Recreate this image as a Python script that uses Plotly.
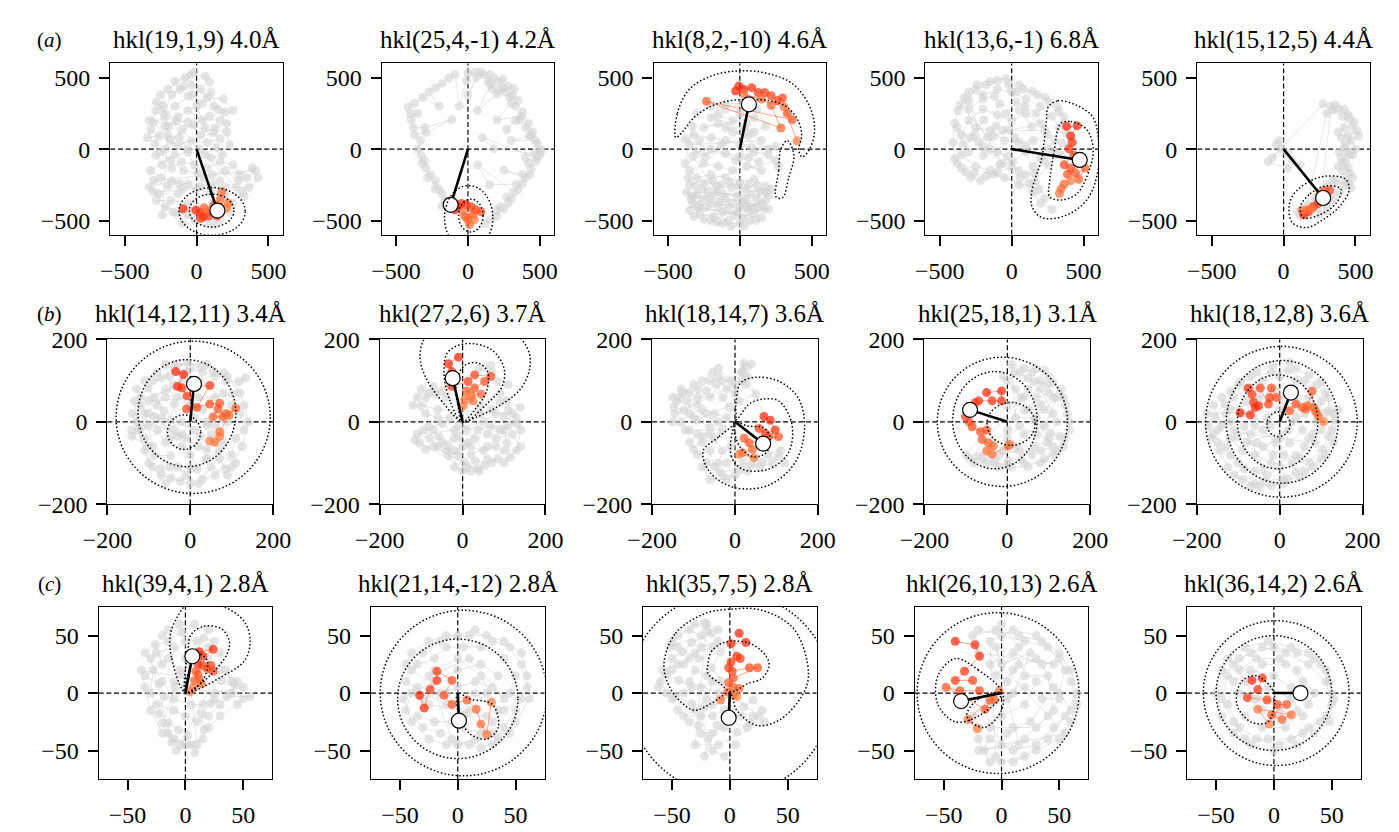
import plotly.graph_objects as go

W, H = 1399, 832
FONT = "Liberation Serif"

# ---------------- data ----------------
TITLES = ["hkl(19,1,9) 4.0Å", "hkl(25,4,-1) 4.2Å", "hkl(8,2,-10) 4.6Å", "hkl(13,6,-1) 6.8Å", "hkl(15,12,5) 4.4Å",
          "hkl(14,12,11) 3.4Å", "hkl(27,2,6) 3.7Å", "hkl(18,14,7) 3.6Å", "hkl(25,18,1) 3.1Å", "hkl(18,12,8) 3.6Å",
          "hkl(39,4,1) 2.8Å", "hkl(21,14,-12) 2.8Å", "hkl(35,7,5) 2.8Å", "hkl(26,10,13) 2.6Å", "hkl(36,14,2) 2.6Å"]
ROW_LABELS = ["a", "b", "c"]
ROW_RANGE = [600, 200, 75]
ROW_TICKS = [[-500, 0, 500], [-200, 0, 200], [-50, 0, 50]]

A1_GRAY = [(-16,540),(-150,473),(-116,417),(-38,450),(74,361),(186,350),(253,271),(163,204),(40,204),(-60,271),(-128,226),(-195,159),(-240,305),(-284,271),(-318,137),(-340,81),(-262,92),(-128,25),(-38,58),(74,47),(163,70),(119,114),(-217,2),(-284,-43),(-240,-110),(-172,-133),(-105,-88),(-16,-110),(74,-133),(163,-88),(253,-110),(298,-178),(388,-133),(428,-200),(365,-268),(276,-268),(163,-223),(52,-200),(-60,-245),(-172,-223),(-329,-268),(-262,-313),(-128,-313),(-217,-403),(-128,-447),(-16,-492),(74,-492),(163,-492),
           (-250,380),(-200,420),(-80,500),(30,420),(120,300),(200,260),(90,230),(-20,170),(-100,130),(-180,60),(-300,190),(-220,220),(-150,300),(-60,370),(0,300),(60,150),(140,10),(60,-40),(-60,-20),(-150,-40),(-320,-150),(-250,-200),(-120,-240),(0,-280),(100,-300),(200,-320),(320,-300),(250,-380),(-60,-380),(-180,-360),(-280,-360),(-100,-520),(120,-530),(230,-440),(330,-330),
           (-280,330),(-230,250),(-170,380),(-90,440),(-30,380),(40,320),(100,400),(150,280),(210,180),(130,150),(30,100),(-60,190),(-140,200),(-220,160),(-290,40),(-250,-20),(-180,-80),(-90,-150),(10,-170),(110,-180),(200,-150),(290,-220),(350,-200),(410,-150),(-300,-220),(-200,-260),(-100,-280),(20,-260),(110,-250),(200,-270),(-300,-300),(-160,-440),(-60,-460),(0,-420),(-240,-460),(-200,100),(-120,80),(-60,0),(20,0),(100,-60),(180,-40),(230,30),(210,120),(-330,200),(-40,520),(60,510),(90,470)]
A1_ORANGE = [(-94,-417),(-5,-428),(29,-446),(47,-473),(29,-486),(85,-468),(141,-468),(96,-435),(52,-412),(119,-390),(163,-356),(175,-300),(220,-379),(208,-413)]
A1_VEC = (145,-430)
A1_ELL = [(108,-436,230,167),(105,-430,155,115)]
A1_CURVES = []

A2_GRAY = [(-135,-403),(-180,-400),(-160,-360),(-180,-313),(-200,-280),(-225,-223),(-230,-280),(-260,-180),(-280,-200),(-292,-133),(-300,-80),(-320,-100),(-326,-43),(-350,0),(-330,60),(-370,100),(-292,115),(-112,205),(-300,150),(-380,150),(-394,205),(-350,250),(-400,250),(-416,294),(-370,320),(-315,362),(-200,300),(-270,400),(-225,430),(-180,460),(-135,497),(-90,520),(-60,300),(-10,480),(0,531),(50,540),(60,500),(0,380),(90,540),(112,520),(150,520),(140,470),(180,497),(210,470),(240,490),(247,430),(220,410),(202,385),(67,271),(157,452),(170,420),(260,400),(280,440),(320,420),(292,362),(310,380),(349,340),(330,300),(300,320),(202,204),(370,230),(360,205),(330,200),(270,137),(380,260),(420,180),(400,150),(450,120),(440,100),(427,92),(300,60),(470,60),(480,40),(495,2),(510,-10),(500,-40),(460,-30),(180,2),(100,80),(480,-60),(472,-88),(400,-60),(420,-100),(440,-140),(430,-180),(382,-178),(250,-150),(400,-200),(380,-240),(350,-280),(337,-245),(150,-250),(67,-110),(320,-300),(300,-350),(270,-335),(280,-380),(250,-420),(225,-403),(200,-430),(200,-470),(157,-492),(120,-520)]
A2_ORANGE = [(-90,-425),(-67,-403),(-45,-380),(-11,-390),(22,-403),(56,-425),(90,-438),(34,-460),(0,-494),(-22,-472),(11,-528),(-34,-438),(45,-494)]
A2_VEC = (-120,-390)
A2_ELL = [(5,-480,168,225),(20,-465,85,115)]
A2_CURVES = []

A3_GRAY = [(-300,250),(-200,300),(-100,280),(0,250),(100,220),(-250,150),(-150,180),(-50,120),(60,100),(150,60),(-350,30),(-300,-20),(-200,0),(-100,-30),(0,-50),(100,-20),(200,-40),(250,-80),(-350,-250),(-300,-200),(-200,-180),(-100,-200),(0,-230),(100,-210),(180,-260),(200,-320),(150,-380),(50,-400),(-50,-380),(-150,-400),(-250,-350),(-330,-380),(-280,-450),(-180,-470),(-80,-500),(20,-480),(100,-450),(170,-420),(-220,-300),(-120,-310),(-20,-330),(80,-320),
           (-370,-300),(-330,-330),(-260,-280),(-160,-260),(-60,-270),(40,-280),(140,-300),(120,-350),(20,-370),(-100,-350),(-200,-340),(-300,-320),(-350,-430),(-240,-410),(-120,-440),(-20,-440),(80,-400),(180,-360),(-200,-500),(-120,-520),(0,-520),(70,-500),(-350,-150),(-250,-100),(-150,-120),(-50,-150),(50,-120),(150,-150),(-380,70),(-320,100),(-200,80),(-100,60),(0,30),(80,10),(250,20),(270,-120),(-150,240),(-50,200),(50,180),
           (-360,-200),(-310,-260),(-250,-240),(-190,-220),(-130,-250),(-70,-230),(-10,-260),(60,-250),(120,-260),(180,-300),(220,-280),(-340,-350),(-280,-390),(-200,-380),(-140,-370),(-80,-410),(0,-400),(60,-430),(120,-410),(200,-420),(-320,-470),(-250,-490),(-160,-510),(-60,-540),(30,-540),(110,-500),(150,-480),(-290,-410),(-40,-460),(40,-350),(-160,-300),(-330,-50),(-280,60),(-240,-50),(-130,30),(-30,-80),(60,-60),(130,-90),(200,0),(-100,150),(30,150),(100,120),(-200,220),(-100,320),(10,320),(120,280),(180,160),(-380,-100),(-330,160)]
A3_ORANGE = [(-29,407),(-7,441),(27,419),(83,430),(128,396),(173,396),(218,374),(263,340),(297,358),(331,250),(364,205),(-232,335),(286,148),(218,306),(151,351),(27,385),(308,295),(398,58)]
A3_VEC = (63,313)
A3_ELL = []
A3_CURVES = [
    [(-445,80),(-435,250),(-350,420),(-190,515),(0,548),(190,530),(370,455),(485,300),(520,140),(490,10),(435,-55),(410,-10),(430,100),(400,210),(320,300),(200,340),(60,345),(-60,340),(-200,300),(-320,220),(-400,120),(-445,80)],
    [(286,2),(270,-150),(252,-335),(297,-340),(340,-200),(376,-43),(330,60),(286,2)],
]

A4_GRAY = [(-240,450),(-150,473),(-38,495),(52,450),(141,405),(231,361),(320,293),(365,226),(410,92),(343,-43),(253,-110),(163,-222),(231,-345),(96,-20),(7,-88),(-83,-110),(-128,-177),(-217,-222),(-284,-200),(-352,-132),(-397,-65),(-408,47),(-397,181),(-374,271),(-329,361),(-262,92),(-195,204),(-83,316),(52,271),(141,159),(-16,137),(-128,92),(-195,-43),
           (-300,400),(-200,380),(-100,420),(0,400),(100,350),(200,300),(280,230),(330,150),(300,60),(250,0),(200,-60),(150,-120),(100,-180),(50,-150),(-30,-50),(-100,-20),(-200,20),(-300,-20),(-350,100),(-300,200),(-200,280),(-100,240),(0,200),(100,250),(200,180),(250,100),(150,60),(50,50),(-50,60),(-150,130),(-250,150),(-350,-40),(-250,-120),(-150,-150),(-50,-200),(50,-250),(150,-300),(200,-380),(280,-420),
           (-360,310),(-300,340),(-250,420),(-180,450),(-100,480),(-20,450),(30,400),(80,420),(180,380),(260,330),(330,260),(360,180),(380,120),(350,40),(300,-20),(220,-80),(160,-170),(120,-240),(190,-280),(-380,-100),(-320,-160),(-260,-170),(-180,-190),(-100,-160),(0,-130),(60,-200),(-380,150),(-340,30),(-290,80),(-230,50),(-170,80),(-110,160),(-40,250),(30,330),(90,300),(170,250),(230,130),(-60,130),(20,80),(100,20),(-150,0),(-60,-100),(-300,280),(-200,350),(-120,370)]
A4_ORANGE = [(383,159),(455,163),(410,92),(421,47),(398,2),(432,-43),(365,-110),(410,-132),(388,-177),(443,-166),(466,-211),(511,-132),(365,-244),(343,-278),(332,-311),(410,-222)]
A4_VEC = (473,-76)
A4_ELL = []
A4_CURVES = [
    [(253,293),(320,338),(455,305),(560,230),(600,100),(600,-150),(522,-356),(365,-468),(208,-479),(141,-401),(141,-289),(208,-65),(242,204),(253,293)],
    [(343,181),(410,193),(522,137),(567,2),(544,-132),(455,-311),(343,-356),(264,-334),(264,-222),(298,2),(320,137),(343,181)],
]

A5_GRAY = [(-52,36),(-18,2),(-108,-88),(27,-133),(117,-110),(60,-80),(-30,60),(30,-30),(-80,-60),
           (275,317),(342,272),(410,227),(477,160),(522,92),(432,47),(387,-20),(432,-88),(410,-155),(455,-245),(365,-223),(300,-300),(200,-400),(150,-450),
           (300,250),(380,280),(450,240),(420,150),(380,120),(470,60),(500,0),(460,-40),(400,-60),(380,-120),(450,-130),(480,-200),(420,-260),(390,-300),(330,-270),(280,-380),(230,-420),(180,-450),(120,-470),(350,-330),(300,-430),(250,-460),
           (330,300),(360,310),(420,280),(460,220),(490,190),(510,130),(450,100),(400,80),(420,10),(480,-40),(440,-10),(410,-90),(460,-170),(430,-220),(470,-270),(340,-220),(300,-250),(260,-300),(220,-340),(170,-390),(130,-420),(100,-440),(330,-370),(280,-320),(240,-350)]
A5_ORANGE = [(140,-459),(173,-437),(207,-403),(241,-380),(275,-358),(297,-324),(320,-290),(286,-290),(252,-313),(162,-425),(128,-430),(196,-414)]
A5_VEC = (275,-342)
A5_ELL = []
A5_CURVES = [
    [(38,-403),(72,-313),(185,-223),(297,-189),(432,-211),(455,-290),(387,-403),(275,-493),(162,-549),(61,-515),(38,-403)],
    [(117,-403),(185,-313),(297,-257),(398,-280),(365,-380),(252,-459),(139,-481),(117,-403)],
]

B1_GRAY = [(-141,-20),(-118,-12),(-141,-35),(-102,-59),(-86,-82),(-47,-82),(-71,-114),(-47,-137),(-24,-145),(16,-114),(39,-90),(71,-90),(86,-114),(39,-67),(63,-51),(24,-35),(-63,27),(-86,59),(-102,82),(-71,106),(-39,129),(-8,145),(24,133),(55,122),(86,98),(118,98),(133,106),(102,67),(-39,43),(-47,4),(-86,12),(-31,-35),
           (-120,40),(-100,20),(-80,-20),(-60,-50),(-20,-60),(0,-80),(30,-140),(60,-130),(100,-80),(110,-40),(130,-20),(120,20),(100,40),(80,70),(50,90),(20,100),(-10,120),(-50,110),(-90,100),(-120,60),(-130,0),(-110,-40),(-20,0),(10,-20),(40,-10),(30,30),(0,40),(-30,60),(-60,80),(-80,40),(-40,-20),(-10,-40),(20,-60),(50,-30),(80,-50),(110,-100),(-140,20),(-100,-100),(-70,-130),(0,-150),(-60,140),(40,140),(80,120),
           (-135,50),(-125,-20),(-110,-70),(-90,-110),(-60,-150),(-30,-110),(-10,-130),(20,-150),(50,-110),(90,-130),(100,-110),(125,-60),(140,0),(130,40),(120,70),(90,110),(60,110),(30,120),(0,130),(-30,140),(-80,120),(-110,100),(-130,80),(-100,-10),(-70,10),(-50,-40),(-20,-30),(10,10),(40,0),(60,-10),(90,0),(70,-70),(40,-90),(0,-110),(-50,-110),(-90,-60),(-110,20),(-60,60),(-40,90),(-20,100),(-100,50),(20,60),(60,60)]
B1_ORANGE = [(-35,122),(-16,115),(-31,86),(-20,82),(-8,63),(16,86),(47,88),(16,35),(-9,31),(47,43),(71,45),(67,31),(55,12),(78,12),(86,20),(110,33),(94,16),(71,-24),(71,-35),(59,-49),(47,-47)]
B1_VEC = (9,92)
B1_ELL = [(7,11,186,185),(-8,21,118,130),(-15,-25,40,42)]
B1_CURVES = []

B2_GRAY = [(-104,-51),(-89,-67),(-57,-35),(-34,-59),(-34,-82),(5,-98),(37,-114),(53,-106),(84,-90),(115,-86),(107,-51),(100,-20),(68,-12),(37,-20),(13,-51),(-10,-35),(-49,-4),(-81,-12),(-89,59),(-65,67),(-34,90),(68,137),(84,98),(107,51),(139,35),(100,12),(131,-4),
           (-110,-30),(-80,-40),(-60,-60),(-20,-70),(0,-60),(20,-80),(60,-60),(80,-40),(120,-30),(140,-60),(100,-100),(60,-90),(30,-40),(-20,-20),(50,0),(80,20),(120,20),(-60,30),(-100,40),(-110,60),(-70,85),(-40,60),(40,40),(90,70),(110,90),(70,120),(40,130),(-20,-110),(20,-120),
           (-115,-45),(-95,-20),(-70,-20),(-50,-50),(-40,-70),(-10,-80),(10,-110),(30,-95),(70,-100),(100,-70),(130,-70),(140,-20),(130,10),(110,30),(90,50),(70,30),(40,20),(10,-20),(-10,-10),(-30,10),(-60,10),(-90,20),(-120,40),(-100,80),(-80,70),(-50,75),(60,-30),(90,-20),(110,-10),(80,-60),(50,-70),(20,-60),(-20,-40),(-70,-60),(40,-120),(0,-120)]
B2_ORANGE = [(-10,157),(-34,141),(-26,122),(-26,86),(13,98),(29,114),(68,110),(53,98),(29,82),(9,75),(45,67),(21,63),(5,55),(25,51),(2,39)]
B2_VEC = (-24,106)
B2_ELL = []
B2_CURVES = [
    [(0,0),(-50,50),(-90,110),(-103,160),(-90,205),(-40,235),(40,240),(120,220),(158,175),(162,130),(140,80),(90,40),(30,10),(0,0)],
    [(0,0),(-30,50),(-45,120),(-35,170),(10,190),(70,175),(100,130),(95,85),(60,45),(0,0)],
    [(0,0),(-12,45),(-15,100),(5,137),(37,143),(60,122),(58,75),(30,30),(0,0)],
]

B3_GRAY = [(-132,59),(-148,36),(-124,28),(-92,43),(-69,75),(-45,91),(-29,59),(-13,36),(22,142),(18,122),(26,91),(50,67),(-92,4),(-61,-12),(-77,-36),(-100,-67),(-69,-99),(-37,-122),(10,-115),(66,-99),(105,-83),
           (-150,60),(-130,80),(-110,70),(-90,80),(-60,100),(-40,110),(-20,80),(0,70),(10,50),(-20,10),(-50,20),(-80,30),(-110,20),(-130,0),(-110,-20),(-80,-50),(-50,-40),(-30,-70),(-40,-100),(-80,-110),(-60,-140),(-20,-140),(30,-120),(40,-105),(80,-80),(120,-100),(30,110),(40,140),(20,100),
           (-145,20),(-140,50),(-125,70),(-100,90),(-80,100),(-55,120),(-40,130),(0,90),(15,120),(25,135),(-10,100),(-30,100),(-60,60),(-90,60),(-115,50),(-100,10),(-70,20),(-40,0),(-60,-30),(-90,-30),(-110,-50),(-90,-80),(-60,-70),(-50,-110),(-30,-130),(0,-130),(20,-100),(60,-110),(90,-100),(110,-70),(-20,-100),(-10,-60),(-30,-20),(-120,-20),(-150,0)]
B3_ORANGE = [(70,13),(85,4),(97,-20),(73,-28),(58,-16),(81,-36),(105,-36),(34,-51),(22,-40),(42,-67),(18,-75),(46,-87),(10,-79)]
B3_VEC = (68,-53)
B3_ELL = []
B3_CURVES = [
    [(0,0),(-40,-37),(-77,-71),(-61,-122),(0,-160),(81,-154),(145,-99),(168,-12),(152,59),(105,99),(50,108),(14,95),(2,43),(0,0)],
    [(0,0),(-9,-83),(18,-115),(81,-115),(129,-75),(137,-4),(105,51),(66,55),(34,43),(10,12),(0,0)],
    [(0,0),(30,-10),(70,-15),(85,-40),(75,-75),(45,-85),(15,-65),(0,-30),(0,0)],
]

B4_GRAY = [(17,122),(49,106),(65,98),(96,91),(112,59),(80,43),(41,28),(65,4),(104,-28),(127,-35),(96,-51),(65,-59),(33,-91),(2,-94),(-30,-91),(-69,-83),(-37,-51),(2,-20),(33,59),
           (0,100),(30,120),(70,130),(100,110),(130,80),(140,40),(150,0),(140,-40),(120,-70),(90,-90),(50,-110),(10,-110),(-20,-110),(-50,-100),(-80,-100),(-100,-80),(0,40),(40,60),(80,80),(110,20),(90,-10),(40,-30),(20,-60),(-10,-70),(60,-80),(120,60),(70,10),(20,10),
           (10,140),(40,130),(60,120),(90,125),(110,95),(135,60),(145,20),(150,-20),(135,-60),(110,-80),(80,-100),(40,-100),(0,-105),(-30,-100),(-60,-90),(-90,-90),(50,80),(80,100),(100,70),(70,60),(50,30),(90,30),(120,0),(100,-40),(70,-30),(30,-10),(0,-40),(-20,-80),(30,-70),(80,-70),(110,-60),(20,80),(-10,110)]
B4_ORANGE = [(-50,71),(-14,75),(-14,51),(-37,51),(-69,51),(-77,47),(-101,12),(-92,0),(-85,-12),(-65,-24),(-50,-20),(-61,-43),(-46,-51),(-34,-59),(-50,-71),(-37,-79),(2,-59),(6,-55)]
B4_VEC = (-90,29)
B4_ELL = [(-12,0,157,157),(-30,4,102,118),(9,-5,58,52)]
B4_CURVES = []

B5_GRAY = [(-172,-12),(-157,12),(-133,43),(-118,74),(-94,98),(-55,122),(-16,137),(24,145),(39,129),(71,114),(102,98),(118,59),(118,27),(133,4),(118,-35),(102,-67),(71,-98),(39,-122),(8,-137),(-39,-145),(-71,-157),(-86,-114),(-118,-82),(-149,-51),(-102,-35),(-55,-51),(-16,-82),(24,-51),(55,-20),(39,12),(-24,-12),(-63,12),(-86,-12),(-39,-114),(39,-82),(86,-51),
           (-150,-20),(-130,20),(-110,60),(-80,80),(-40,100),(0,110),(40,100),(80,80),(100,50),(90,0),(80,-30),(60,-60),(30,-100),(0,-110),(-30,-130),(-60,-120),(-100,-100),(-130,-60),(-160,-30),(-120,0),(-90,20),(-60,-10),(-30,10),(0,30),(30,0),(0,-40),(-40,-60),(-80,-50),(20,-20),(60,20),(-110,-130),(-50,-160),(10,-150),(60,-120),(100,-90),(130,-50),(140,30),
           (-175,20),(-165,-40),(-145,-70),(-125,-110),(-90,-140),(-60,-150),(-20,-155),(20,-140),(50,-135),(80,-110),(110,-80),(125,-20),(130,20),(110,70),(90,90),(60,100),(20,125),(-20,120),(-70,110),(-100,90),(-140,60),(-160,40),(-140,-10),(-110,-20),(-70,-30),(-40,-20),(-10,-50),(-20,-100),(-60,-80),(-90,-70),(-120,-40),(10,-80),(50,-90),(70,-40),(100,-20),(110,20),(70,60),(30,70),(-10,80),(-50,60),(-80,50),(-120,30),(0,60),(40,50)]
B5_ORANGE = [(-96,22),(-71,17),(-59,35),(-51,39),(-63,47),(-67,67),(-76,82),(-47,82),(-27,43),(-24,59),(-20,82),(-8,59),(24,27),(39,43),(55,35),(63,31),(67,39),(78,74),(82,35),(86,27),(90,20),(94,12),(106,0)]
B5_VEC = (27,71)
B5_ELL = [(4,0,183,183),(6,0,135,149),(-5,0,97,114),(-3,-6,28,30)]
B5_CURVES = []

C1_GRAY = [(8,60),(-3,53),(-15,45),(-26,42),(-20,25),(-35,15),(-23,8),(-18,-3),(-23,-18),(-15,-26),(-6,-32),(2,-37),(8,-52),(16,-32),(14,-18),(22,-9),(36,-3),(56,-3),(42,8),(31,11),(19,31),(25,45),(16,48),(-3,16),(-9,5),(-20,-26),(-12,-43),
           (-30,30),(-25,35),(-10,40),(0,30),(10,45),(20,55),(-5,60),(-28,20),(-30,0),(-25,-10),(-10,-15),(0,-20),(10,-25),(20,-20),(30,-10),(40,0),(45,10),(30,20),(-5,-45),(5,-45),(-15,-35),(-10,10),(0,5),(25,0),(50,5),
           (-38,20),(-35,5),(-30,-15),(-20,-35),(-10,-40),(0,-45),(15,-40),(20,-30),(30,-20),(45,-10),(50,-5),(40,10),(35,20),(30,35),(20,40),(-15,55),(-20,50),(-35,35),(-20,10),(-10,-5),(5,-10),(15,-10),(25,-5),(-5,20),(-15,30),(0,45),(10,-45),(-8,-50)]
C1_ORANGE = [(12,36),(24,38),(15,32),(11,25),(15,24),(22,24),(24,19),(19,21),(9,19),(11,16),(8,11),(12,12),(14,8),(7,5),(4,1)]
C1_VEC = (6,32)
C1_ELL = []
C1_CURVES = [
    [(0,0),(-12,31),(-13,51),(-6,68),(2,77),(33,75),(51,62),(56,45),(51,28),(31,14),(8,2),(0,0)],
    [(0,0),(2,36),(5,51),(16,58),(31,56),(38,45),(36,34),(22,16),(5,2),(0,0)],
    [(0,0),(4,22),(11,34),(19,28),(15,11),(0,0)],
]

C2_GRAY = [(-40,20),(-30,35),(-15,45),(0,50),(15,55),(30,45),(45,40),(55,25),(60,5),(50,-15),(40,-30),(30,-45),(15,-40),(0,-45),(-15,-35),(-30,-30),(-45,-15),(-40,0),(-20,10),(0,20),(20,25),(35,15),(25,0),(10,-15),(-10,-10),
           (-45,10),(-35,25),(-20,30),(-10,40),(5,40),(20,40),(40,30),(50,15),(45,0),(55,-5),(40,-15),(30,-25),(20,-35),(5,-30),(-5,-25),(-20,-25),(-35,-20),(-30,-5),(-15,0),(0,5),(15,10),(30,5),(40,-5),(10,30),(-25,15),(-5,-40),(20,-48),(35,-40),
           (-45,25),(-40,35),(-25,45),(-10,50),(10,50),(25,50),(40,45),(55,35),(60,15),(62,-5),(50,-25),(45,-35),(30,-35),(10,-45),(-10,-45),(-25,-40),(-40,-25),(-47,-5),(-35,5),(-20,20),(0,30),(20,15),(35,-15),(15,0),(-10,0),(5,-20),(25,-20),(-25,-10)]
C2_ORANGE = [(-33,-2),(-29,-13),(-24,3),(-18,11),(-18,19),(-5,11),(-12,-2),(-5,-10),(8,-6),(16,-14),(20,-27),(25,-36),(29,-8)]
C2_VEC = (1,-24)
C2_ELL = [(5,0,72,72),(0,-5,52,52)]
C2_CURVES = [[(0,0),(10,-5),(30,-10),(35,-30),(25,-40),(10,-35),(0,-15),(0,0)]]

C3_GRAY = [(-22,61),(-16,52),(-33,44),(-41,36),(-50,30),(-55,16),(-44,11),(-33,5),(-47,-3),(-33,-9),(-22,-12),(-27,-28),(-19,-40),(-22,-55),(-11,-28),(6,-34),(17,-26),(28,-15),(20,-6),(12,-12),(-8,11),(-16,22),(-8,36),(-27,30),
           (-45,40),(-50,45),(-35,55),(-25,50),(-15,40),(-30,35),(-40,25),(-50,20),(-60,10),(-55,0),(-40,0),(-25,5),(-15,10),(-20,-5),(-30,-15),(-40,-20),(-15,-20),(-5,-15),(10,-20),(20,-20),(30,-25),(-10,-45),(-30,-45),(-20,60),(-10,55),
           (-52,40),(-45,50),(-30,60),(-20,55),(-10,45),(-25,40),(-35,30),(-45,25),(-58,20),(-62,5),(-50,-5),(-45,-15),(-35,-25),(-25,-35),(-15,-35),(-5,-30),(0,-25),(15,-30),(25,-20),(-20,15),(-30,20),(-35,10),(-10,0),(-15,-10),(-25,-20),(-15,-50),(-5,-55),(5,-45)]
C3_ORANGE = [(8,52),(14,44),(1,43),(6,32),(9,30),(1,27),(-1,22),(2,19),(17,22),(24,22),(3,13),(-1,9),(3,5),(8,4),(-2,1),(-8,-6),(3,-2),(6,-3)]
C3_VEC = (-1,-21.5)
C3_ELL = [(0,0,88,88)]
C3_CURVES = [
    [(-57,25),(-47,52),(-22,69),(0,73),(28,72),(56,55),(68,16),(62,-3),(42,-24),(23,-28),(6,-15),(0,0),(-16,-9),(-30,-15),(-41,-9),(-52,5),(-57,25)],
    [(-19,25),(-16,36),(-5,44),(15,44),(28,36),(34,25),(28,13),(15,8),(1,1),(-8,8),(-19,17),(-19,25)],
]

C4_GRAY = [(-20,55),(0,50),(20,45),(40,40),(55,20),(50,0),(60,-15),(45,-30),(30,-45),(10,-50),(-10,-40),(-20,-30),(0,-20),(20,-10),(30,10),(15,25),(5,10),(-10,25),(10,35),(35,25),(45,5),(25,-25),(5,-35),(-5,-55),
           (-10,45),(10,55),(30,50),(50,35),(60,20),(65,0),(55,-20),(40,-40),(20,-55),(0,-60),(-15,-50),(-10,-30),(10,-30),(30,-30),(45,-15),(40,15),(20,15),(10,0),(25,35),(0,25),(-5,40),(15,-45),(-20,-50),(55,-35),
           (-25,50),(-5,55),(15,50),(35,45),(50,30),(60,10),(65,-10),(60,-25),(50,-40),(30,-50),(10,-60),(-10,-60),(-20,-40),(-25,-20),(-10,-10),(5,-5),(20,5),(35,-5),(50,-5),(40,-20),(20,-40),(0,-45),(-15,-15),(10,20),(30,30),(45,25),(-20,35),(-5,15),(15,40),(0,60)]
C4_ORANGE = [(-40,45),(-23,42),(-19,32),(-32,19),(-40,11),(-25,11),(-19,2),(-36,2),(-48,5),(-14,-14),(-10,-6),(-6,-6),(-2,2),(-29,-23),(-21,-31)]
C4_VEC = (-35,-7)
C4_ELL = [(-3,0,70,70)]
C4_CURVES = [
    [(0,0),(-20,20),(-40,30),(-55,15),(-55,-10),(-40,-25),(-20,-20),(0,0)],
    [(0,0),(-20,-5),(-30,-20),(-15,-30),(0,-15),(0,0)],
]

C5_GRAY = [(-30,30),(-10,40),(10,35),(30,25),(45,10),(50,-10),(40,-25),(25,-35),(5,-45),(-15,-40),(-30,-30),(-40,-10),(-35,10),(-20,20),(0,15),(15,5),(20,-15),(0,-20),(-15,-5),
           (-35,25),(-20,35),(0,40),(20,35),(35,30),(45,20),(50,0),(45,-20),(30,-30),(15,-40),(-5,-40),(-25,-40),(-35,-25),(-45,-5),(-40,15),(-25,10),(-10,25),(10,25),(25,10),(30,-10),(10,-30),(-10,-30),(-25,-20),(-5,5),(15,-5),
           (-40,30),(-25,40),(-5,45),(15,40),(30,35),(40,25),(48,10),(52,-5),(48,-25),(35,-35),(20,-45),(0,-50),(-20,-45),(-35,-35),(-45,-20),(-50,0),(-45,20),(-30,20),(-15,30),(5,30),(20,20),(35,0),(25,-20),(5,-15),(-10,-15),(-20,-5),(-30,0),(-5,-5)]
C5_ORANGE = [(-19,11),(-10,13),(-14,3),(-23,-4),(-6,-6),(3,-10),(11,-10),(-2,-19),(7,-23),(15,-19),(-14,-14),(-4,-27)]
C5_VEC = (23,0)
C5_ELL = [(2,0,63,63),(0,0,50,50)]
C5_CURVES = [[(0,0),(-15,15),(-28,10),(-32,-10),(-20,-25),(-5,-25),(0,0)]]

PANELS = [
    (A1_GRAY, A1_ORANGE, A1_VEC, A1_ELL, A1_CURVES),
    (A2_GRAY, A2_ORANGE, A2_VEC, A2_ELL, A2_CURVES),
    (A3_GRAY, A3_ORANGE, A3_VEC, A3_ELL, A3_CURVES),
    (A4_GRAY, A4_ORANGE, A4_VEC, A4_ELL, A4_CURVES),
    (A5_GRAY, A5_ORANGE, A5_VEC, A5_ELL, A5_CURVES),
    (B1_GRAY, B1_ORANGE, B1_VEC, B1_ELL, B1_CURVES),
    (B2_GRAY, B2_ORANGE, B2_VEC, B2_ELL, B2_CURVES),
    (B3_GRAY, B3_ORANGE, B3_VEC, B3_ELL, B3_CURVES),
    (B4_GRAY, B4_ORANGE, B4_VEC, B4_ELL, B4_CURVES),
    (B5_GRAY, B5_ORANGE, B5_VEC, B5_ELL, B5_CURVES),
    (C1_GRAY, C1_ORANGE, C1_VEC, C1_ELL, C1_CURVES),
    (C2_GRAY, C2_ORANGE, C2_VEC, C2_ELL, C2_CURVES),
    (C3_GRAY, C3_ORANGE, C3_VEC, C3_ELL, C3_CURVES),
    (C4_GRAY, C4_ORANGE, C4_VEC, C4_ELL, C4_CURVES),
    (C5_GRAY, C5_ORANGE, C5_VEC, C5_ELL, C5_CURVES),
]

# ---------------- layout geometry (pixels) ----------------
ROW_TOP_BOTTOM = [(52, 229), (337, 507), (613, 791)]
ROW_LEFTS = [[88, 368, 648.5, 929, 1209.5], [85, 366, 647, 928, 1209], [76, 357, 637.7, 918, 1199]]
ROW_WIDTH = [178, 171, 179]
TITLE_Y = [28, 311, 589]

fig = go.Figure()
shapes = []
annotations = []
orange_scale = [[0, "#ff1e00"], [0.5, "#ff4a1c"], [1, "#ff7a3a"]]
DOT = "1.5px,2.2px"

for i, (gray, orange, vec, ells, curves) in enumerate(PANELS):
    row, col = divmod(i, 5)
    n = i + 1
    xa = "x" if n == 1 else f"x{n}"
    ya = "y" if n == 1 else f"y{n}"
    top, bottom = ROW_TOP_BOTTOM[row]
    left = ROW_LEFTS[row][col]
    right = left + ROW_WIDTH[row]
    r = ROW_RANGE[row]
    ax_common = dict(range=[-r, r], tickvals=ROW_TICKS[row],
                     ticktext=[str(t).replace("-", "\u2212") for t in ROW_TICKS[row]],
                     ticks="outside", ticklen=10, tickwidth=1.7, tickcolor="black", ticklabelstandoff=4,
                     showline=True, mirror=True, linecolor="black", linewidth=1.3,
                     showgrid=False, zeroline=False, fixedrange=True,
                     tickfont=dict(family=FONT, size=24, color="black"))
    fig.layout[f"xaxis{'' if n == 1 else n}"] = dict(domain=[left / W, right / W], anchor=ya, **ax_common)
    fig.layout[f"yaxis{'' if n == 1 else n}"] = dict(domain=[1 - bottom / H, 1 - top / H], anchor=xa, **ax_common)

    # dashed zero lines
    shapes.append(dict(type="line", xref=xa, yref=f"{ya} domain", x0=0, x1=0, y0=0, y1=1,
                       line=dict(color="black", width=1.2, dash="5px,2.7px"), layer="below"))
    shapes.append(dict(type="line", xref=f"{xa} domain", yref=ya, x0=0, x1=1, y0=0, y1=0,
                       line=dict(color="black", width=1.2, dash="5px,2.7px"), layer="below"))

    gx = [p[0] for p in gray]
    gy = [p[1] for p in gray]
    fig.add_trace(go.Scatter(x=gx, y=gy, xaxis=xa, yaxis=ya, mode="lines+markers",
                             line=dict(color="rgba(205,205,205,0.5)", width=1),
                             marker=dict(size=9, color="rgba(212,212,212,0.6)"),
                             showlegend=False, hoverinfo="skip"))
    ox = [p[0] for p in orange]
    oy = [p[1] for p in orange]
    fig.add_trace(go.Scatter(x=ox, y=oy, xaxis=xa, yaxis=ya, mode="lines",
                             line=dict(color="rgba(255,110,70,0.6)", width=1),
                             showlegend=False, hoverinfo="skip"))
    fig.add_trace(go.Scatter(x=ox, y=oy, xaxis=xa, yaxis=ya, mode="markers",
                             marker=dict(size=9, color=list(range(len(orange))), colorscale=orange_scale,
                                         opacity=0.7, line=dict(width=0)),
                             showlegend=False, hoverinfo="skip"))
    for c in curves:
        fig.add_trace(go.Scatter(x=[p[0] for p in c], y=[p[1] for p in c], xaxis=xa, yaxis=ya, mode="lines",
                                 line=dict(color="black", width=1.5, dash=DOT, shape="spline", smoothing=1.0),
                                 showlegend=False, hoverinfo="skip"))
    for (cx, cy, rx, ry) in ells:
        shapes.append(dict(type="circle", xref=xa, yref=ya, x0=cx - rx, x1=cx + rx, y0=cy - ry, y1=cy + ry,
                           line=dict(color="black", width=1.5, dash=DOT), layer="above"))
    fig.add_trace(go.Scatter(x=[0, vec[0]], y=[0, vec[1]], xaxis=xa, yaxis=ya, mode="lines",
                             line=dict(color="black", width=2.6), showlegend=False, hoverinfo="skip"))
    fig.add_trace(go.Scatter(x=[vec[0]], y=[vec[1]], xaxis=xa, yaxis=ya, mode="markers",
                             marker=dict(size=15, color="white", line=dict(color="black", width=1.2)),
                             showlegend=False, hoverinfo="skip"))

    annotations.append(dict(text=TITLES[i], xref="paper", yref="paper", x=(left + right) / 2 / W,
                            y=1 - TITLE_Y[row] / H, xanchor="center", yanchor="middle", showarrow=False,
                            font=dict(family=FONT, size=25, color="black")))
    if col == 0:
        annotations.append(dict(text=f"(<i>{ROW_LABELS[row]}</i>)", xref="paper", yref="paper", x=25 / W,
                                y=1 - TITLE_Y[row] / H, xanchor="center", yanchor="middle", showarrow=False,
                                font=dict(family=FONT, size=21, color="black")))

fig.update_layout(width=W, height=H, margin=dict(l=0, r=0, t=0, b=0),
                  paper_bgcolor="white", plot_bgcolor="white",
                  shapes=shapes, annotations=annotations, showlegend=False)
fig.write_html("out.html")
